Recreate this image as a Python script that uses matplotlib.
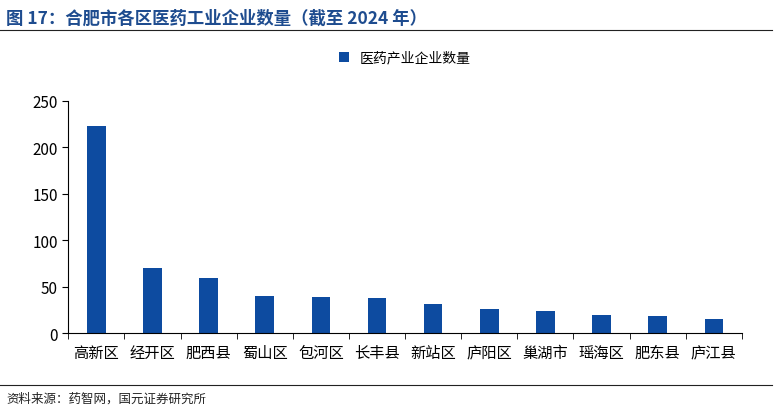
import matplotlib.pyplot as plt
import numpy as np

plt.rcParams['font.family'] = ['Noto Sans CJK SC', 'DejaVu Sans']

districts = ['高新区', '经开区', '肥西县', '蜀山区', '包河区', '长丰县',
             '新站区', '庐阳区', '巢湖市', '瑶海区', '肥东县', '庐江县']
counts = [223, 70, 59, 40, 39, 38, 31, 26, 24, 20, 18, 15]

bar_color = '#0D4BA0'
title_color = '#1E4C8F'

fig = plt.figure(figsize=(7.76, 4.14), dpi=100)
ax = fig.add_axes([0.088, 0.193, 0.868, 0.561])

x = np.arange(len(districts))
ax.bar(x, counts, 0.33, color=bar_color, label='医药产业企业数量')
ax.set_xlim(-0.5, len(districts) - 0.5)
ax.set_ylim(0, 250)
ax.set_yticks(range(0, 251, 50))
ax.set_xticks(x)
ax.set_xticklabels(districts, fontsize=11)
ax.set_xticks(np.arange(-0.5, len(districts), 1), minor=True)
ax.tick_params(axis='x', which='major', length=0, pad=8)
ax.tick_params(axis='x', which='minor', length=4, direction='out')
ax.tick_params(axis='y', labelsize=11, length=4)
for s in ['top', 'right']:
    ax.spines[s].set_visible(False)
ax.legend(loc='upper center', bbox_to_anchor=(0.5, 1.27), frameon=False,
          fontsize=10, handlelength=0.7, handleheight=0.7)

fig.text(0.008, 0.955, '图 17：合肥市各区医药工业企业数量（截至 2024 年）',
         fontsize=12.5, fontweight='bold', color=title_color, va='center')
fig.add_artist(plt.Line2D([0.0, 0.995], [0.925, 0.925], color='#222222', lw=0.8))
fig.add_artist(plt.Line2D([0.0, 0.995], [0.068, 0.068], color='#222222', lw=0.8))
fig.text(0.008, 0.035, '资料来源：药智网，国元证券研究所', fontsize=9, va='center', color='#222222')

fig.savefig('out.png', dpi=100)
